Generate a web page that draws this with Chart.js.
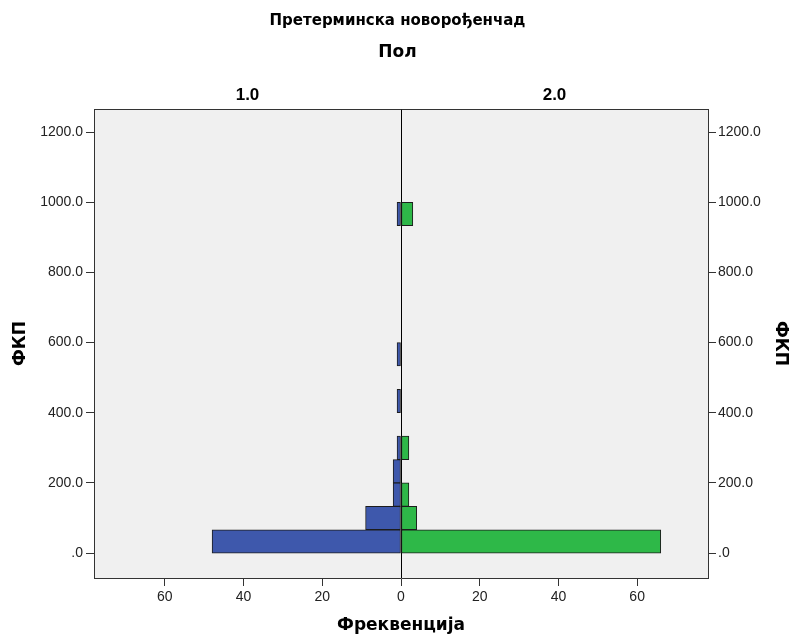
<!DOCTYPE html>
<html lang="sr">
<head>
    <meta charset="UTF-8">
    <title>Претерминска новорођенчад</title>
    <script src="https://cdn.jsdelivr.net/npm/chart.js"></script>
    <style>
        body {
          margin: 0;
          padding: 0;
          background: #fff;
        }
        canvas {
          display: block;
        }
    </style>
</head>
<body>
<canvas id="pyramid" width="795" height="636"></canvas>

<script>
    // Data read from the population pyramid
    const binStart = [0, 66.67, 133.33, 200, 266.67, 400, 533.33, 933.33];
    const binWidth = 66.67;
    const female = [48, 9, 2, 2, 1, 1, 1, 1];      // Пол 1.0 (left)
    const male = [66, 4, 2, null, 2, null, null, 3]; // Пол 2.0 (right)
    const groups = ['1.0', '2.0'];
    const groupCenters = [-39, 39];
    const xTicks = [-60, -40, -20, 0, 20, 40, 60];
    const yTicks = [0, 200, 400, 600, 800, 1000, 1200];

    const FONT = "Arial, 'Liberation Sans', sans-serif";
    const WIDE = "'DejaVu Sans', Arial, sans-serif";
    const mid = binStart.map(s => s + binWidth / 2);

    const plotBg = {
      id: 'plotBg',
      beforeDraw(chart) {
        const {ctx, chartArea: a} = chart;
        ctx.save();
        ctx.fillStyle = '#fff';
        ctx.fillRect(0, 0, chart.width, chart.height);
        ctx.fillStyle = '#f0f0f0';
        ctx.fillRect(a.left, a.top, a.right - a.left, a.bottom - a.top);
        ctx.restore();
      }
    };

    const yLabel = v => v === 0 ? '.0' : v.toFixed(1);
    const setTicks = list => scale => { scale.ticks = list.map(v => ({value: v})); };
    const titleFont = {family: WIDE, size: 17, weight: 'bold'};

    new Chart(document.getElementById('pyramid'), {
      type: 'bar',
      data: {
        datasets: [{
          label: groups[0],
          data: mid.map((y, i) => ({x: female[i] === null ? null : -female[i], y})),
          backgroundColor: '#3e58ac',
          borderColor: '#1c1c1c',
          borderWidth: 1,
          borderSkipped: false
        }, {
          label: groups[1],
          data: mid.map((y, i) => ({x: male[i], y})),
          backgroundColor: '#2eb848',
          borderColor: '#1c1c1c',
          borderWidth: 1,
          borderSkipped: false
        }]
      },
      options: {
        responsive: false,
        devicePixelRatio: 1,
        animation: false,
        indexAxis: 'y',
        grouped: false,
        barPercentage: 1,
        categoryPercentage: 1,
        layout: {padding: 0},
        plugins: {
          legend: {display: false},
          tooltip: {enabled: false},
          title: {
            display: true,
            text: 'Претерминска новорођенчад',
            color: '#000',
            font: {family: WIDE, size: 15, weight: 'bold'},
            padding: {top: 12, bottom: 12}
          },
          subtitle: {
            display: true,
            text: 'Пол',
            color: '#000',
            font: titleFont,
            padding: {top: 0, bottom: 0}
          }
        },
        scales: {
          x: {
            type: 'linear',
            position: 'bottom',
            min: -78,
            max: 78,
            afterBuildTicks: setTicks(xTicks),
            afterFit: s => { s.height = 58; },
            ticks: {
              color: '#222',
              font: {family: FONT, size: 14},
              padding: 3,
              callback: v => Math.abs(v)
            },
            grid: {
              drawOnChartArea: true,
              color: c => (c.tick && c.tick.value === 0) ? '#000' : 'rgba(0,0,0,0)',
              tickColor: '#333',
              tickLength: 8
            },
            border: {display: true, color: '#333'},
            title: {
              display: true,
              text: 'Фреквенција',
              color: '#000',
              font: titleFont,
              padding: {top: 0, bottom: 0}
            }
          },
          x2: {
            type: 'linear',
            position: 'top',
            min: -78,
            max: 78,
            afterBuildTicks: setTicks(groupCenters),
            afterFit: s => { s.height = 46.6; },
            ticks: {
              color: '#000',
              font: {family: FONT, size: 17, weight: 'bold'},
              padding: 3,
              callback: v => groups[groupCenters.indexOf(v)]
            },
            grid: {drawOnChartArea: false, drawTicks: false},
            border: {display: true, color: '#333'}
          },
          y: {
            type: 'linear',
            position: 'left',
            min: -71,
            max: 1266,
            offset: false,
            afterBuildTicks: setTicks(yTicks),
            afterFit: s => { s.width = 94; },
            ticks: {
              color: '#222',
              font: {family: FONT, size: 14},
              padding: 3,
              callback: yLabel
            },
            grid: {drawOnChartArea: false, offset: false, tickColor: '#333', tickLength: 8},
            border: {display: true, color: '#333'},
            title: {
              display: true,
              text: 'ФКП',
              color: '#000',
              font: titleFont,
              padding: {top: 10, bottom: 0}
            }
          },
          y2: {
            type: 'linear',
            position: 'right',
            min: -71,
            max: 1266,
            offset: false,
            afterBuildTicks: setTicks(yTicks),
            afterFit: s => { s.width = 87; },
            ticks: {
              color: '#222',
              font: {family: FONT, size: 14},
              padding: 2,
              callback: yLabel
            },
            grid: {drawOnChartArea: false, offset: false, tickColor: '#333', tickLength: 8},
            border: {display: true, color: '#333'},
            title: {
              display: true,
              text: 'ФКП',
              color: '#000',
              font: titleFont,
              padding: {top: 4, bottom: 0}
            }
          }
        }
      },
      plugins: [plotBg]
    });
</script>
</body>
</html>
